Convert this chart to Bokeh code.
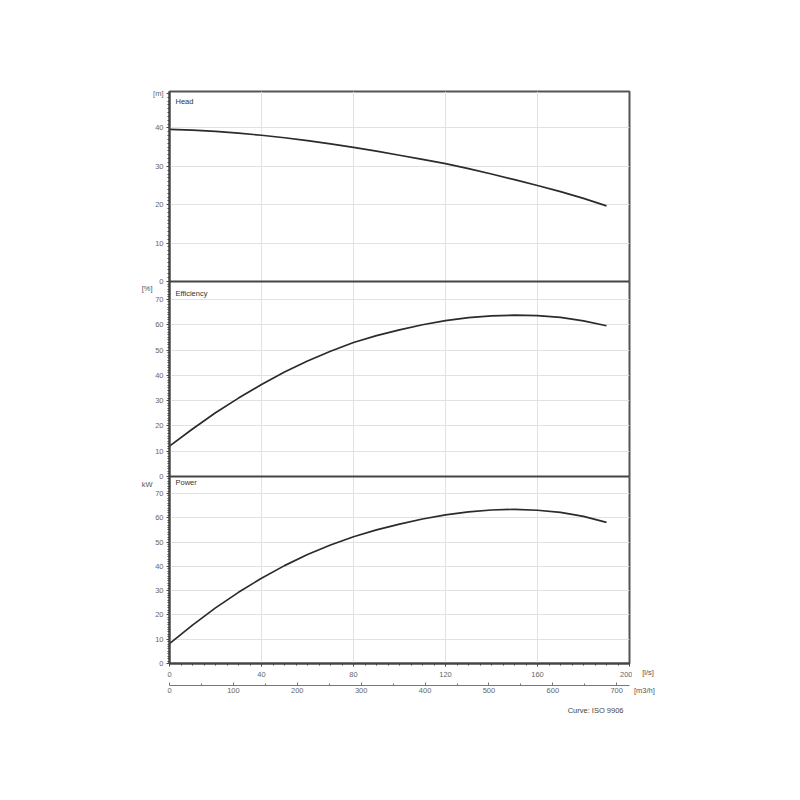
from bokeh.plotting import figure
from bokeh.models import Range1d, LinearAxis, FixedTicker, Label, Span, Title
from bokeh.layouts import row
from bokeh.embed import file_html
from bokeh.resources import INLINE

# ---------------- data ----------------
flow_ls = [0, 10, 20, 30, 40, 50, 60, 70, 80, 90, 100, 110, 120, 130, 140, 150, 160, 170, 180, 190]
head_m = [39.65, 39.45, 39.1, 38.65, 38.1, 37.45, 36.7, 35.85, 34.95, 33.95, 32.9, 31.8, 30.7, 29.4, 28.0, 26.55, 25.0, 23.4, 21.65, 19.7]
eff_pct = [12.0, 18.8, 25.2, 31.0, 36.4, 41.3, 45.7, 49.5, 53.0, 55.7, 58.0, 60.0, 61.6, 62.8, 63.5, 63.8, 63.6, 62.9, 61.5, 59.6]
power_kw = [8.2, 15.8, 22.9, 29.3, 35.1, 40.3, 44.9, 48.8, 52.2, 55.0, 57.4, 59.5, 61.2, 62.4, 63.2, 63.5, 63.1, 62.2, 60.6, 58.1]

head_ticks = [0, 10, 20, 30, 40]
eff_ticks = [0, 10, 20, 30, 40, 50, 60, 70]
power_ticks = [0, 10, 20, 30, 40, 50, 60, 70]
flow_ticks = [0, 40, 80, 120, 160, 200]
m3h_ticks = [0, 100, 200, 300, 400, 500, 600, 700]

panel_titles = ["Head", "Efficiency", "Power"]
panel_units = ["[m]", "[%]", "kW"]
flow_unit = "[l/s]"
m3h_unit = "[m3/h]"
curve_note = "Curve: ISO 9906"

# ---------------- layout ----------------
FRAME_W, FRAME_H = 460, 572
LEFT, TOP, RIGHT, BOTTOM = 169, 91, 3, 70
FONT = "Liberation Sans"
FS = "7.5px"
TICK_COLOR = "#666666"
LINE_DARK = "#444444"

# name, bottom offset (px inside frame), height (px), top value, ticks, series, title y, unit y
panels = [
    ("head", 382, 190, 49.5, head_ticks, head_m, 46.9, 49.1),
    ("eff", 187, 195, 77.1, eff_ticks, eff_pct, 72.4, 74.2),
    ("power", 0, 187, 77.0, power_ticks, power_kw, 74.4, 73.8),
]


def style_flow_axes(first, second, s1=5, s2=2):
    """Same extents for the l/s axis and the m3/h axis in both figures."""
    first.major_tick_out = 3
    first.major_tick_in = 0
    first.minor_tick_out = 2
    first.minor_tick_in = 0
    first.major_label_standoff = s1
    first.axis_label = " "
    first.axis_label_standoff = 2
    first.axis_label_text_font_size = "1px"
    second.major_tick_in = 3
    second.major_tick_out = 0
    second.minor_tick_in = 2
    second.minor_tick_out = 0
    second.major_label_standoff = s2
    for ax in (first, second):
        ax.major_label_text_font = FONT
        ax.major_label_text_font_size = FS
        ax.major_label_text_color = TICK_COLOR


p = figure(frame_width=FRAME_W, frame_height=FRAME_H,
           min_border_left=LEFT, min_border_right=RIGHT, min_border_top=TOP, min_border_bottom=BOTTOM,
           x_range=Range1d(0, 200), y_range=Range1d(0, FRAME_H),
           output_backend="svg", toolbar_location=None, tools="")
p.title.visible = False

major_pos, minor_pos, overrides = [], [], {}
unit_pos, unit_over = [], {}
for (name, bottom, height, top, ticks, series, ty, uy), ttl, unit in zip(panels, panel_titles, panel_units):
    k = top / height
    start = -bottom * k
    p.extra_y_ranges[name] = Range1d(start, start + FRAME_H * k)
    for t in ticks:
        pos = round(bottom + t / k, 4)
        major_pos.append(pos)
        overrides[pos] = str(t)
    for v in range(0, int(top) + 1):
        if v not in ticks:
            minor_pos.append(round(bottom + v / k, 4))
    upos = round(bottom + uy / k, 4)
    unit_pos.append(upos)
    unit_over[upos] = unit
    p.line(flow_ls, series, y_range_name=name, line_color="#2b2b2b", line_width=1.7)
    p.add_layout(Label(x=2.6, y=ty, y_range_name=name, text=ttl,
                       text_font=FONT, text_font_size=FS, text_color="#333333",
                       text_baseline="middle", text_align="left"))

head_unit_pos = unit_pos[0]
yaxis = p.yaxis[0]
yaxis.ticker = FixedTicker(ticks=major_pos + [head_unit_pos], minor_ticks=minor_pos)
yaxis.major_label_overrides = {**overrides, head_unit_pos: unit_over[head_unit_pos]}
yaxis.axis_line_color = LINE_DARK
yaxis.axis_line_width = 2
yaxis.major_tick_line_color = LINE_DARK
yaxis.minor_tick_line_color = LINE_DARK
yaxis.major_tick_out = 3
yaxis.major_tick_in = 0
yaxis.minor_tick_out = 2
yaxis.minor_tick_in = 0
yaxis.major_label_standoff = 3
yaxis.major_label_text_font = FONT
yaxis.major_label_text_font_size = FS
yaxis.major_label_text_color = TICK_COLOR
p.ygrid.ticker = FixedTicker(ticks=major_pos)

unit_axis = LinearAxis(ticker=FixedTicker(ticks=unit_pos[1:], minor_ticks=[]),
                       major_label_overrides={u: unit_over[u] for u in unit_pos[1:]})
unit_axis.axis_line_color = None
unit_axis.major_tick_line_color = None
unit_axis.minor_tick_line_color = None
unit_axis.major_tick_out = 0
unit_axis.major_tick_in = 0
unit_axis.minor_tick_out = 0
unit_axis.minor_tick_in = 0
unit_axis.major_label_standoff = -2
unit_axis.major_label_text_font = FONT
unit_axis.major_label_text_font_size = FS
unit_axis.major_label_text_color = "#555555"
p.add_layout(unit_axis, "left")

xaxis = p.xaxis[0]
xaxis.ticker = FixedTicker(ticks=flow_ticks, minor_ticks=list(range(0, 201, 5)))
xaxis.axis_line_color = LINE_DARK
xaxis.axis_line_width = 2
xaxis.major_tick_line_color = LINE_DARK
xaxis.minor_tick_line_color = LINE_DARK
p.xgrid.ticker = FixedTicker(ticks=flow_ticks)

p.extra_x_ranges["m3h"] = Range1d(0, 200 * 3.6)
ax2 = LinearAxis(x_range_name="m3h",
                 ticker=FixedTicker(ticks=m3h_ticks, minor_ticks=list(range(50, 720, 100))))
ax2.axis_line_color = "#777777"
ax2.axis_line_width = 1
ax2.major_tick_line_color = "#777777"
ax2.minor_tick_line_color = "#777777"
p.add_layout(ax2, "below")
style_flow_axes(xaxis, ax2)

p.add_layout(Title(text=curve_note, align="right", offset=6, standoff=17,
                   text_font=FONT, text_font_size=FS, text_font_style="normal",
                   text_color="#444444"), "below")

p.grid.grid_line_color = "#e2e2e2"
p.grid.grid_line_width = 1
p.outline_line_color = "#555555"
p.outline_line_width = 2
p.background_fill_color = "white"
p.border_fill_color = "white"

for name, bottom, height, *_ in panels[1:]:
    p.add_layout(Span(location=bottom + height, dimension="width",
                      line_color=LINE_DARK, line_width=2))

# narrow strip on the right: its frame lines up with the main frame, and its two
# bottom axes (mirroring the l/s and m3/h axes) carry only the unit texts.
strip_w = 40
x0 = LEFT + FRAME_W + RIGHT
side = figure(frame_width=strip_w, frame_height=FRAME_H,
              x_range=Range1d(x0, x0 + strip_w), y_range=Range1d(0, FRAME_H),
              min_border_left=0, min_border_right=0, min_border_top=TOP, min_border_bottom=BOTTOM,
              y_axis_location=None, title=None,
              output_backend="svg", toolbar_location=None, tools="")
side.outline_line_color = None
side.grid.visible = False
side.background_fill_color = "white"
side.border_fill_color = "white"

ls_center = 647.5
m3h_center = 643.8
sx1 = side.xaxis[0]
sx1.ticker = FixedTicker(ticks=[ls_center], minor_ticks=[])
sx1.major_label_overrides = {ls_center: flow_unit}
sx2 = LinearAxis(ticker=FixedTicker(ticks=[m3h_center], minor_ticks=[]),
                 major_label_overrides={m3h_center: m3h_unit})
side.add_layout(sx2, "below")
style_flow_axes(sx1, sx2, s1=1, s2=0)
for ax in (sx1, sx2):
    ax.axis_line_color = None
    ax.major_tick_line_color = None
    ax.minor_tick_line_color = None
    ax.major_label_text_color = "#555555"

layout = row(p, side)
open("out.html", "w").write(file_html(layout, INLINE))
